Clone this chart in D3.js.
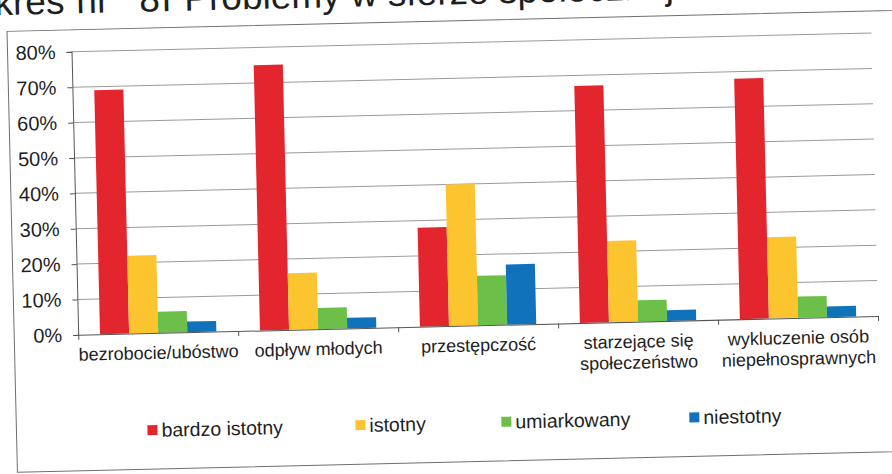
<!DOCTYPE html>
<html>
<head>
<meta charset="utf-8">
<script src="https://cdn.jsdelivr.net/npm/d3@7"></script>
<style>
  html, body { margin: 0; padding: 0; background: #fff; }
  svg { display: block; }
  text { font-family: "Liberation Sans", Arial, sans-serif; fill: #1e1e1e; }
</style>
</head>
<body>
<svg id="chart" width="892" height="474"></svg>
<script>
// Categories (problems) and their wrapped axis labels
const categories = ["bezrobocie/ubóstwo", "odpływ młodych", "przestępczość", "starzejące się społeczeństwo", "wykluczenie osób niepełnosprawnych"];
const categoryLines = [["bezrobocie/ubóstwo"], ["odpływ młodych"], ["przestępczość"], ["starzejące się", "społeczeństwo"], ["wykluczenie osób", "niepełnosprawnych"]];

// Rating levels (series)
const series = ["bardzo istotny", "istotny", "umiarkowany", "niestotny"];
const seriesColors = ["#e3262e", "#fcc530", "#6cc04a", "#1172bc"];

// Share of answers, in percent
const bardzoIstotny = [69, 75, 28, 67, 68];
const istotny       = [22, 16, 40, 23, 23];
const umiarkowany   = [6, 6, 14, 6, 6];
const niestotny     = [3, 3, 17, 3, 3];

// Y axis ticks
const yTicks = [0, 10, 20, 30, 40, 50, 60, 70, 80];

const values = [bardzoIstotny, istotny, umiarkowany, niestotny];
const rows = categories.map((c, i) => ({
  category: c,
  lines: categoryLines[i],
  bars: series.map((s, j) => ({ series: s, value: values[j][i], color: seriesColors[j] }))
}));

const svg = d3.select("#chart");
svg.append("rect").attr("width", 892).attr("height", 474).attr("fill", "#fff");

// The whole page sits at a slight tilt
const page = svg.append("g").attr("transform", "rotate(-1.35 450 237)");

// Heading above the chart frame (runs off the top edge)
const title = page.append("g").style("font-size", "37px");
title.append("text").attr("x", 70).attr("y", 4.5).attr("text-anchor", "end").text("Wykres");
title.append("text").attr("x", 82).attr("y", 4.5).text("nr");
title.append("text").attr("x", 145).attr("y", 4.5).text("8");
title.append("text").attr("x", 167).attr("y", 4.5).text("I");
title.append("text").attr("x", 190).attr("y", 4.5).text("Problemy w sferze społecznej");

// Chart frame
page.append("rect")
  .attr("x", 12).attr("y", 21)
  .attr("width", 940).attr("height", 441)
  .attr("fill", "none")
  .attr("stroke", "#6e6e6e")
  .attr("stroke-width", 1);

const plot = { left: 76, right: 876, top: 43, bottom: 326 };

const x0 = d3.scaleBand()
  .domain(categories)
  .range([plot.left, plot.right])
  .padding(0);

const x1 = d3.scaleBand()
  .domain(series)
  .range([0, x0.bandwidth()])
  .paddingInner(0)
  .paddingOuter(0.75);

const y = d3.scaleLinear()
  .domain([0, 80])
  .range([plot.bottom, plot.top]);

// Horizontal gridlines
page.append("g")
  .selectAll("line")
  .data(yTicks.filter(t => t > 0))
  .join("line")
  .attr("x1", plot.left).attr("x2", plot.right)
  .attr("y1", d => y(d)).attr("y2", d => y(d))
  .attr("stroke", "#9a9a9a")
  .attr("stroke-width", 1);

// Bars
page.append("g")
  .selectAll("g")
  .data(rows)
  .join("g")
  .attr("transform", d => `translate(${x0(d.category)},0)`)
  .selectAll("rect")
  .data(d => d.bars)
  .join("rect")
  .attr("x", d => x1(d.series))
  .attr("width", x1.bandwidth())
  .attr("y", d => y(d.value))
  .attr("height", d => y(0) - y(d.value))
  .attr("fill", d => d.color);

// Y axis
const yAxis = page.append("g")
  .attr("transform", `translate(${plot.left},0)`)
  .call(d3.axisLeft(y)
    .tickValues(yTicks)
    .tickSizeInner(5)
    .tickSizeOuter(5)
    .tickPadding(11)
    .tickFormat(d => d + "%"));
yAxis.selectAll("path, line").attr("stroke", "#555");
yAxis.selectAll("text")
  .style("font-size", "20px")
  .style("font-family", "'Liberation Sans', Arial, sans-serif")
  .attr("fill", "#1e1e1e");

// X axis with ticks on the category boundaries
const xEdges = d3.scaleLinear().domain([0, categories.length]).range([plot.left, plot.right]);
const xAxis = page.append("g")
  .attr("transform", `translate(0,${plot.bottom})`)
  .call(d3.axisBottom(xEdges)
    .tickValues(d3.range(0, categories.length + 1))
    .tickSizeInner(5)
    .tickSizeOuter(0)
    .tickFormat(""));
xAxis.selectAll("path, line").attr("stroke", "#555");

// Category labels
page.append("g")
  .selectAll("text")
  .data(rows)
  .join("text")
  .attr("text-anchor", "middle")
  .style("font-size", "18px")
  .attr("transform", d => `translate(${x0(d.category) + x0.bandwidth() / 2},0)`)
  .selectAll("tspan")
  .data(d => d.lines)
  .join("tspan")
  .attr("x", 0)
  .attr("y", (d, i) => 352 + i * 21)
  .text(d => d);

// Legend
const legendX = [143, 351, 497, 685];
const legend = page.append("g")
  .selectAll("g")
  .data(series)
  .join("g")
  .attr("transform", (d, i) => `translate(${legendX[i]},418)`);
legend.append("rect")
  .attr("width", 10).attr("height", 10)
  .attr("fill", (d, i) => seriesColors[i]);
legend.append("text")
  .attr("x", 14).attr("y", 12)
  .style("font-size", "19.5px")
  .text(d => d);
</script>
</body>
</html>
